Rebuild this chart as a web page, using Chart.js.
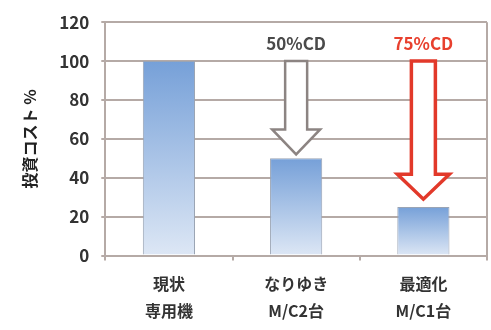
<!DOCTYPE html>
<html lang="ja">
<head>
    <meta charset="UTF-8">
    <title>投資コスト</title>
    <style>
        html, body { margin: 0; padding: 0; background: #fff; }
        .chart-box { width: 491px; height: 330px; }
    </style>
</head>
<body>
    <div class="chart-box">
        <canvas id="costChart"></canvas>
    </div>
    <script src="https://cdn.jsdelivr.net/npm/chart.js"></script>
    <script>
        // data
        const categories = [['現状', '専用機'], ['なりゆき', 'M/C2台'], ['最適化', 'M/C1台']];
        const costValues = [100, 50, 25];
        const yTicks = [0, 20, 40, 60, 80, 100, 120];
        const arrowLabels = [null, '50%CD', '75%CD'];
        const arrowFrom = [null, 100, 100];
        const arrowTo = [null, 52, 29];

        const fontFamily = '"Noto Sans CJK JP", "Noto Sans", sans-serif';
        const gridColor = '#b5aaa6';

        // draws the reduction arrows above the 2nd and 3rd bars
        const arrowPlugin = {
            id: 'arrows',
            afterDatasetsDraw(chart) {
                const ctx = chart.ctx;
                const x = chart.scales.x;
                const y = chart.scales.y;
                const styles = [null,
                    { stroke: '#8c8482', text: '#4a4a4a', width: 2.5, shaft: 11, head: 24 },
                    { stroke: '#e2392a', text: '#e8402e', width: 3.5, shaft: 12, head: 26 }];
                for (let i = 0; i < categories.length; i++) {
                    if (arrowFrom[i] == null) continue;
                    const st = styles[i];
                    const cx = x.getPixelForValue(i);
                    const top = y.getPixelForValue(arrowFrom[i]);
                    const tip = y.getPixelForValue(arrowTo[i]);
                    const headH = 25;
                    ctx.save();
                    ctx.beginPath();
                    ctx.moveTo(cx - st.shaft, top);
                    ctx.lineTo(cx + st.shaft, top);
                    ctx.lineTo(cx + st.shaft, tip - headH);
                    ctx.lineTo(cx + st.head, tip - headH);
                    ctx.lineTo(cx, tip);
                    ctx.lineTo(cx - st.head, tip - headH);
                    ctx.lineTo(cx - st.shaft, tip - headH);
                    ctx.closePath();
                    ctx.fillStyle = '#ffffff';
                    ctx.fill();
                    ctx.lineWidth = st.width;
                    ctx.strokeStyle = st.stroke;
                    ctx.stroke();
                    ctx.fillStyle = st.text;
                    ctx.font = 'bold 17px ' + fontFamily;
                    ctx.textAlign = 'center';
                    ctx.textBaseline = 'middle';
                    ctx.fillText(arrowLabels[i], cx, top - 18);
                    ctx.restore();
                }
            }
        };

        const ctx = document.getElementById('costChart').getContext('2d');
        new Chart(ctx, {
            type: 'bar',
            data: {
                labels: categories,
                datasets: [{
                    data: costValues,
                    // gradient per bar, darker at the top of each bar
                    backgroundColor: (c) => {
                        const area = c.chart.chartArea;
                        if (!area || c.raw == null) return '#8fb2de';
                        const top = c.chart.scales.y.getPixelForValue(c.raw);
                        const g = c.chart.ctx.createLinearGradient(0, top, 0, area.bottom);
                        g.addColorStop(0, '#76a0d8');
                        g.addColorStop(1, '#dde7f5');
                        return g;
                    },
                    borderColor: '#9aa4b4',
                    borderWidth: 1,
                    barPercentage: 0.82,
                    categoryPercentage: 0.5
                }]
            },
            options: {
                responsive: true,
                maintainAspectRatio: false,
                animation: false,
                layout: { padding: { top: 12, right: 4, left: 20, bottom: -5 } },
                plugins: {
                    legend: { display: false },
                    tooltip: { enabled: false }
                },
                scales: {
                    x: {
                        grid: {
                            offset: true,
                            drawOnChartArea: false,
                            color: gridColor,
                            lineWidth: 2,
                            tickLength: 5
                        },
                        border: { color: gridColor, width: 2 },
                        ticks: {
                            color: '#333',
                            padding: 10,
                            font: { family: fontFamily, size: 16, weight: 'bold', lineHeight: 1.7 }
                        }
                    },
                    y: {
                        min: 0,
                        max: 120,
                        afterBuildTicks: (axis) => { axis.ticks = yTicks.map(v => ({ value: v })); },
                        grid: { color: gridColor, lineWidth: 2, tickLength: 4 },
                        border: { color: gridColor, width: 2 },
                        ticks: {
                            color: '#333',
                            padding: 12,
                            font: { family: fontFamily, size: 17, weight: 'bold' }
                        },
                        title: {
                            display: true,
                            text: '投資コスト %',
                            color: '#222',
                            padding: { top: 0, bottom: 8 },
                            font: { family: fontFamily, size: 16, weight: 'bold' }
                        }
                    }
                }
            },
            plugins: [arrowPlugin, {
                id: 'rightBorder',
                afterDraw(chart) {
                    const a = chart.chartArea;
                    const c = chart.ctx;
                    c.save();
                    c.strokeStyle = gridColor;
                    c.lineWidth = 2;
                    c.beginPath();
                    c.moveTo(a.right, a.top);
                    c.lineTo(a.right, a.bottom);
                    c.stroke();
                    c.restore();
                }
            }]
        });
    </script>
</body>
</html>
